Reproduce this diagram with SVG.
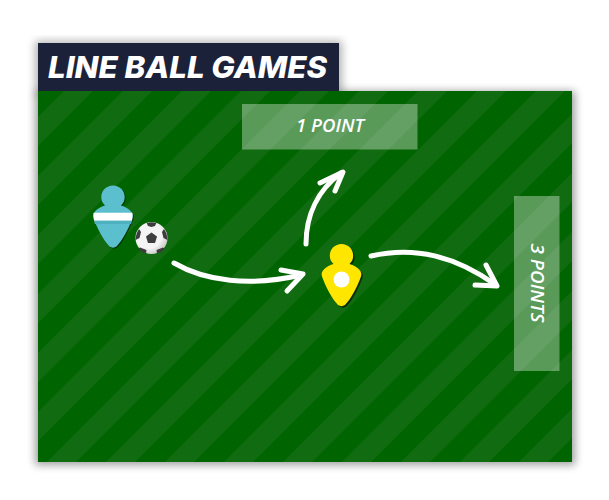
<svg xmlns="http://www.w3.org/2000/svg" width="609" height="500" viewBox="0 0 609 500">
<defs>
<pattern id="stripes" patternUnits="userSpaceOnUse" width="59" height="59">
<rect width="59" height="59" fill="#006400"/>
<polygon points="37,0 59,0 59,7 7,59 0,59 0,37" fill="#116c11"/>
<polygon points="59,37 59,59 37,59" fill="#116c11"/>
<polygon points="0,0 7,0 0,7" fill="#116c11"/>
</pattern>
<filter id="sh" x="-10%" y="-10%" width="120%" height="120%"><feGaussianBlur stdDeviation="4"/></filter>
<filter id="ps" x="-30%" y="-30%" width="160%" height="160%"><feGaussianBlur stdDeviation="0.7"/></filter>
<radialGradient id="ballfill" cx="0.4" cy="0.4" r="0.7"><stop offset="0.6" stop-color="#f4f4f4"/><stop offset="1" stop-color="#bdbdbd"/></radialGradient>
<path id="pawn" d="M0 -27.500C-6.500 -27.500 -11.700 -22.500 -11.700 -16C-11.700 -12.500 -10.500 -10 -8 -7.500C-12 -6.500 -16 -4 -18.500 -1C-20 1 -20 3 -19.500 5C-16 15 -9 28 -3.500 33.500C-1 35 1 35 3.500 33.500C9 28 16 15 19.500 5C20 3 20 1 18.500 -1C16 -4 12 -6.500 8 -7.500C10.500 -10 11.700 -12.500 11.700 -16C11.700 -22.500 6.500 -27.500 0 -27.500Z"/>
</defs>
<style>
.zone{fill:#fff;fill-opacity:.35}
.lbl{font-family:"Open Sans","Liberation Sans",sans-serif;font-style:italic;font-weight:600;font-size:17.500px;fill:#fff;text-anchor:middle}
.arrow{fill:none;stroke:#fff;stroke-width:5;stroke-linecap:round;stroke-linejoin:round}
</style>
<g id="field">
<rect x="35" y="41" width="307" height="54" fill="#000" opacity=".3" filter="url(#sh)"/>
<rect x="35" y="91" width="540" height="374" fill="#000" opacity=".38" filter="url(#sh)"/>
<rect x="38" y="91" width="534" height="371" fill="url(#stripes)"/>
</g>
<g id="title">
<rect x="38" y="43" width="301" height="48" fill="#1b2139"/>
<text x="187.500" y="78" font-family="Inter,'Liberation Sans',sans-serif" font-style="italic" font-weight="800" font-size="30" fill="#fff" text-anchor="middle" textLength="279" lengthAdjust="spacingAndGlyphs">LINE BALL GAMES</text>
</g>
<g id="zone-1-point">
<rect class="zone" x="242" y="104" width="175.500" height="45.500"/>
<text class="lbl" x="330" y="132" textLength="68" lengthAdjust="spacingAndGlyphs">1 POINT</text>
</g>
<g id="zone-3-points">
<rect class="zone" x="514" y="196" width="45.500" height="175"/>
<text class="lbl" transform="translate(530.500 283) rotate(90)" x="0" y="0" textLength="79" lengthAdjust="spacingAndGlyphs">3 POINTS</text>
</g>
<g id="player-blue">
<use href="#pawn" transform="translate(114 214)" fill="#000" opacity=".45" filter="url(#ps)"/>
<use href="#pawn" transform="translate(113 213)" fill="#5bbfce"/>
<path d="M93.600 212.700H132.400Q133 216 132 220.700H94Q93 216 93.600 212.700Z" fill="#fff"/>
<path d="M94 220.700H132L131 224H95Z" fill="#4fb0bf"/>
</g>
<g id="ball">
<circle cx="151.500" cy="238" r="16" fill="url(#ballfill)"/>
<path d="M151.500 232.500L157 236.500L155 243H148L146 236.500Z" fill="#3d3d3d"/>
<path d="M146.500 222.800Q151.500 221.500 156.500 222.800L155 226L151.500 227L148 226ZM164 229Q167 233 167.500 240L163.500 238L162 232ZM139 229Q136 233 135.500 240L139.500 238L141 232ZM140 247.500L146.500 250L146 253.500Q141 252 138 249ZM163 247.500L156.500 250L157 253.500Q162 252 165 249Z" fill="#3d3d3d"/>
</g>
<g id="player-yellow">
<use href="#pawn" transform="translate(343 273)" fill="#000" opacity=".55" filter="url(#ps)"/>
<use href="#pawn" transform="translate(341.500 271.500)" fill="#ffe600"/>
<circle cx="341.500" cy="279.500" r="8" fill="#fff"/>
</g>
<g id="connectors">
<path class="arrow" d="M174 263C205 281 250 287 301 275"/>
<path class="arrow" d="M281 270L303 274L287 291"/>
<path class="arrow" d="M306 244C306 215 318 190 341 173"/>
<path class="arrow" d="M320 183L343 172L335 191"/>
<path class="arrow" d="M371 256C415 246 455 256 496 285"/>
<path class="arrow" d="M486 265L497 286L475 285"/>
</g>
</svg>
